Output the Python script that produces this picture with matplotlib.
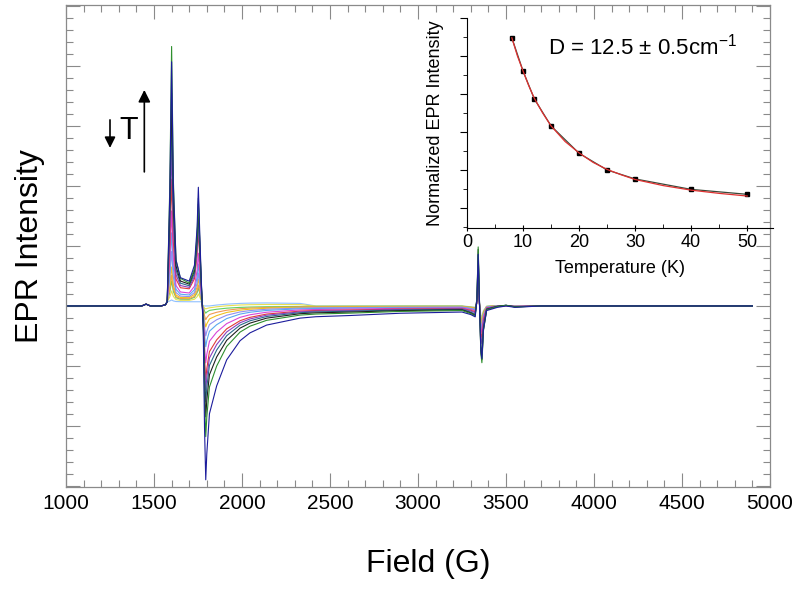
import matplotlib
matplotlib.use("Agg")
import matplotlib.pyplot as plt
from matplotlib.ticker import MultipleLocator
import numpy as np

plt.rcParams['font.family'] = ['Liberation Sans', 'DejaVu Sans']
plt.rcParams['mathtext.fontset'] = 'custom'
plt.rcParams['mathtext.rm'] = 'Liberation Sans'
plt.rcParams['mathtext.it'] = 'Liberation Sans:italic'

# ---- spectra: field nodes (G) and component shapes ----
field = [1000, 1200, 1430, 1455, 1480, 1540, 1565, 1575, 1590, 1600,
         1610, 1625, 1650, 1700, 1730, 1745, 1752, 1760, 1768, 1774,
         1780, 1787, 1794, 1800, 1815, 1856, 1913, 1989, 2045, 2140,
         2330, 2420, 2614, 2898, 3250, 3300, 3325, 3335, 3342, 3350,
         3357, 3363, 3372, 3390, 3450, 3500, 3550, 3700, 4000, 4500, 4900]

base = [0, 0, 0, 0.03, 0, 0, 0.02, 0.07, 0.07, 0.07,
        0.07, 0.07, 0.07, 0.07, 0.07, 0.07, 0.07, 0.07, 0.07, 0.03,
        0, 0, 0, 0, 0, 0, 0, 0, 0, 0,
        0, 0, 0, 0, 0, 0, 0, 0, 0, 0,
        0, 0, 0, 0, 0, 0, 0, 0, 0, 0, 0]

peak1 = [0, 0, 0, 0, 0, 0, 0, 0, 0.45, 1.0,
         0.45, 0.12, 0.04, 0, 0, 0, 0, 0, 0, 0,
         0, 0, 0, 0, 0, 0, 0, 0, 0, 0,
         0, 0, 0, 0, 0, 0, 0, 0, 0, 0,
         0, 0, 0, 0, 0, 0, 0, 0, 0, 0, 0]

peak2 = [0, 0, 0, 0, 0, 0, 0, 0, 0.06, 0.08,
         0.1, 0.12, 0.13, 0.18, 0.32, 0.65, 1.0, 0.6, 0.22, 0,
         0, 0, 0, 0, 0, 0, 0, 0, 0, 0,
         0, 0, 0, 0, 0, 0, 0, 0, 0, 0,
         0, 0, 0, 0, 0, 0, 0, 0, 0, 0, 0]

negative = [0, 0, 0, 0, 0, 0, 0, 0, 0, 0,
            0, 0, 0, 0, 0, 0, 0, 0, 0, 0,
            0.15, 0.7, 1.0, 0.85, 0.62, 0.46, 0.31, 0.2, 0.155, 0.11,
            0.07, 0.062, 0.055, 0.042, 0.035, 0.03, 0.03, 0.03, 0.03, 0.03,
            0.025, 0.025, 0.02, 0.02, 0.015, 0.01, 0.008, 0, 0, 0, 0]

g2 = [0, 0, 0, 0, 0, 0, 0, 0, 0, 0,
      0, 0, 0, 0, 0, 0, 0, 0, 0, 0,
      0, 0, 0, 0, 0, 0, 0, 0, 0, 0,
      0, 0, 0, 0, 0, -0.06, -0.1, 0.2, 1.0, 0.05,
      -0.7, -0.85, -0.35, -0.02, 0.02, 0.03, 0, 0, 0, 0, 0]

hump = [0, 0, 0, 0, 0, 0, 0, 0, 0, 0,
        0, 0, 0, 0, 0, 0, 0, 0, 0, 0,
        0, 0, 0, 0, 0, 0.3, 0.6, 0.85, 0.95, 1.0,
        0.85, 0, 0, 0, 0, 0, 0, 0, 0, 0,
        0, 0, 0, 0, 0, 0, 0, 0, 0, 0, 0]

# per-temperature amplitudes (lowest T first)
curve_colors = ['#1c1c9c', '#2f8f2f', '#202020', '#2a6a8a', '#8a40c0', '#e03a3a', '#d845d8',
                '#5aa8f0', '#9090f0', '#f0c020', '#f09a50', '#60d060', '#e8e050', '#90c0ff']
amp_peak1 = [3.85, 4.12, 3.35, 2.95, 2.45, 1.95, 1.45, 1.1, 0.8, 0.55, 0.42, 0.33, 0.17, 0.03]
amp_peak2 = [1.91, 1.73, 1.63, 1.48, 1.33, 1.2, 0.81, 0.63, 0.48, 0.38, 0.28, 0.23, 0.13, 0.0]
amp_neg = [2.9, 2.18, 1.85, 1.6, 1.4, 1.23, 0.95, 0.68, 0.5, 0.35, 0.23, 0.12, 0.05, 0.0]
amp_g2 = [0.95, 1.05, 1.0, 0.9, 0.7, 0.6, 0.5, 0.45, 0.4, 0.35, 0.3, 0.3, 0.25, 0.22]
amp_hump = [0, 0, 0, 0, 0, 0, 0, 0, 0, 0, 0, 0, 0.03, 0.05]

# ---- inset: normalized intensity vs temperature ----
temp_pts = [8, 10, 12, 15, 20, 25, 30, 40, 50]
intensity_pts = [1.096, 0.921, 0.775, 0.632, 0.488, 0.400, 0.353, 0.298, 0.272]
temp_fit = [8, 9, 10, 11, 12, 13.5, 15, 17.5, 20, 22.5, 25, 27.5, 30, 35, 40, 45, 50]
intensity_fit = [1.096, 1.0, 0.921, 0.845, 0.778, 0.70, 0.632, 0.55, 0.490, 0.44,
                 0.403, 0.375, 0.350, 0.318, 0.294, 0.277, 0.263]

fig = plt.figure(figsize=(8, 5.91), dpi=100)
ax = fig.add_axes([0.0825, 0.176, 0.88, 0.8155])

f = np.array(field)
comps = [np.array(c) for c in (base, peak1, peak2, negative, g2, hump)]
for i in reversed(range(len(curve_colors))):
    y = (comps[0] + amp_peak1[i] * comps[1] + amp_peak2[i] * comps[2]
         - amp_neg[i] * comps[3] + amp_g2[i] * comps[4] + amp_hump[i] * comps[5])
    ax.plot(f, y, color=curve_colors[i], lw=0.8)

ax.set_xlim(1000, 5000)
ax.set_ylim(-3.02, 5.02)
ax.xaxis.set_major_locator(MultipleLocator(500))
ax.xaxis.set_minor_locator(MultipleLocator(100))
ax.yaxis.set_major_locator(MultipleLocator(1))
ax.yaxis.set_minor_locator(MultipleLocator(0.2))
ax.tick_params(which='both', direction='in', top=True, right=True,
               color='#8a8a8a', labelcolor='k', labelsize=15, labelleft=False)
ax.tick_params(which='major', length=10, width=0.8, pad=5)
ax.tick_params(which='minor', length=5, width=0.8)
for s in ax.spines.values():
    s.set_color('#8a8a8a')
    s.set_linewidth(0.9)
ax.set_xlabel('Field (G)', fontsize=23)
ax.xaxis.set_label_coords(0.514, -0.128)
ax.set_ylabel('EPR Intensity', fontsize=23, labelpad=15)

# temperature arrows
ax.annotate('', xy=(1250, 2.59), xytext=(1250, 3.15),
            arrowprops=dict(arrowstyle='-|>', color='k', lw=1.2, mutation_scale=16))
ax.text(1355, 2.92, 'T', fontsize=22, ha='center', va='center')
ax.annotate('', xy=(1445, 3.65), xytext=(1445, 2.19),
            arrowprops=dict(arrowstyle='-|>', color='k', lw=1.2, mutation_scale=18))

# inset
ax2 = fig.add_axes([0.58375, 0.6142, 0.3825, 0.3553])
ax2.patch.set_alpha(0)
ax2.plot(temp_pts, intensity_pts, color='#3a4a3a', lw=0.9, marker='s', ms=3.5,
         mfc='k', mec='k')
ax2.plot(temp_fit, intensity_fit, color='#e03030', lw=0.9)
ax2.set_xlim(0, 54.6)
ax2.set_ylim(0.0947, 1.2)
ax2.xaxis.set_major_locator(MultipleLocator(10))
ax2.xaxis.set_minor_locator(MultipleLocator(5))
ax2.yaxis.set_major_locator(MultipleLocator(0.2))
ax2.yaxis.set_minor_locator(MultipleLocator(0.1))
ax2.spines['top'].set_visible(False)
ax2.spines['right'].set_visible(False)
ax2.tick_params(axis='x', which='major', direction='inout', length=5, labelsize=13, pad=2)
ax2.tick_params(axis='x', which='minor', direction='in', length=3)
ax2.tick_params(axis='y', which='major', direction='out', length=5, labelleft=False)
ax2.tick_params(axis='y', which='minor', direction='out', length=3)
ax2.set_xlabel('Temperature (K)', fontsize=13, labelpad=6)
ax2.set_ylabel('Normalized EPR Intensity', fontsize=13, labelpad=10)
ax2.text(0.265, 0.865, 'D = 12.5 \u00b1 0.5cm$^{-1}$', transform=ax2.transAxes,
         fontsize=16, ha='left', va='center')

fig.savefig('out.png', dpi=100)
